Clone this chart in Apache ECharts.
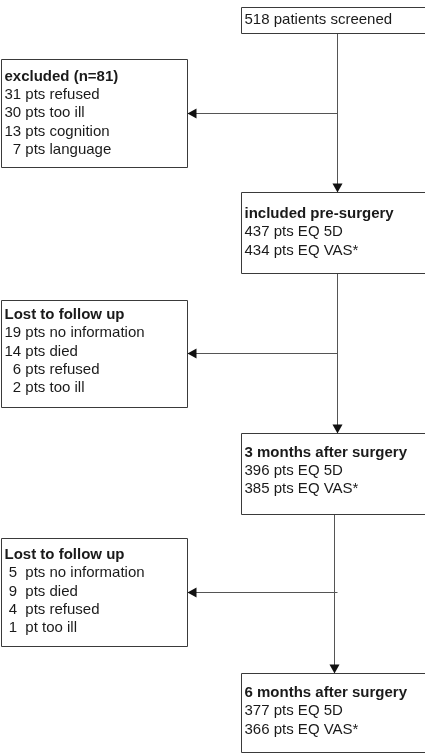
<!DOCTYPE html>
<html>
<head>
<meta charset="utf-8">
<script src="https://cdn.jsdelivr.net/npm/echarts@6/dist/echarts.min.js"></script>
<style>
  html, body { margin: 0; padding: 0; background: #fff; }
  #main { width: 425px; height: 753px; }
</style>
</head>
<body>
<div id="main"></div>
<script>
// box texts (first entry is the heading)
var boxTitles = [
  '518 patients screened',
  'excluded (n=81)',
  'included pre-surgery',
  'Lost to follow up',
  '3 months after surgery',
  'Lost to follow up',
  '6 months after surgery'
];
var boxBold = [false, true, true, true, true, true, true];
var boxLines = [
  [],
  ['31 pts refused', '30 pts too ill', '13 pts cognition', '  7 pts language'],
  ['437 pts EQ 5D', '434 pts EQ VAS*'],
  ['19 pts no information', '14 pts died', '  6 pts refused', '  2 pts too ill'],
  ['396 pts EQ 5D', '385 pts EQ VAS*'],
  [' 5  pts no information', ' 9  pts died', ' 4  pts refused', ' 1  pt too ill'],
  ['377 pts EQ 5D', '366 pts EQ VAS*']
];

// layout of boxes: x0, y0, x1, y1, y of first text line
var boxLayout = [
  [241, 7, 427, 33, 20],
  [1, 59, 187, 167, 76.5],
  [241, 192, 427, 273, 214],
  [1, 300, 187, 407, 315],
  [241, 433, 427, 514, 452.5],
  [1, 538, 187, 646, 555],
  [241, 673, 427, 752, 693]
];
// connectors: x1, y1, x2, y2 (arrow at the end)
var linkLayout = [
  [337, 33, 337, 192],
  [337, 113, 187, 113],
  [337, 273, 337, 433],
  [337, 353, 187, 353],
  [334, 514, 334, 673],
  [337, 592, 187, 592]
];

var LINE_H = 18.3;
var FONT = '15px "Liberation Sans", Arial, sans-serif';
var FONT_B = 'bold 15px "Liberation Sans", Arial, sans-serif';

var chart = echarts.init(document.getElementById('main'), null, { renderer: 'canvas' });

function renderBox(params, api) {
  var i = params.dataIndex;
  var b = boxLayout[i];
  var p0 = api.coord([b[0], b[1]]);
  var p1 = api.coord([b[2], b[3]]);
  var x0 = Math.round(p0[0]) + 0.5, y0 = Math.round(p0[1]) + 0.5;
  var x1 = Math.round(p1[0]) + 0.5, y1 = Math.round(p1[1]) + 0.5;
  var children = [{
    type: 'rect',
    shape: { x: x0, y: y0, width: x1 - x0, height: y1 - y0 },
    style: { fill: '#fff', stroke: '#3a3a3a', lineWidth: 1 }
  }];
  var ty = api.coord([0, b[4]])[1];
  var tx = x0 + 3;
  var all = [boxTitles[i]].concat(boxLines[i]);
  all.forEach(function (t, k) {
    children.push({
      type: 'text',
      style: {
        text: t,
        x: tx,
        y: ty + k * LINE_H,
        font: (k === 0 && boxBold[i]) ? FONT_B : FONT,
        fill: '#1a1a1a',
        align: 'left',
        verticalAlign: 'middle'
      }
    });
  });
  return { type: 'group', children: children };
}

function renderLink(params, api) {
  var l = linkLayout[params.dataIndex];
  var a = api.coord([l[0], l[1]]);
  var b = api.coord([l[2], l[3]]);
  var ax = Math.round(a[0]) + 0.5, ay = Math.round(a[1]) + 0.5;
  var bx = Math.round(b[0]) + 0.5, by = Math.round(b[1]) + 0.5;
  var head = 9, half = 5;
  var pts;
  if (ax === bx) {
    pts = [[bx, by], [bx - half, by - head], [bx + half, by - head]];
  } else {
    var dir = bx < ax ? 1 : -1;
    pts = [[bx, by], [bx + dir * head, by - half], [bx + dir * head, by + half]];
  }
  return {
    type: 'group',
    children: [{
      type: 'line',
      shape: { x1: ax, y1: ay, x2: bx, y2: by },
      style: { stroke: '#555', lineWidth: 1 }
    }, {
      type: 'polygon',
      shape: { points: pts },
      style: { fill: '#111' }
    }]
  };
}

var option = {
  animation: false,
  backgroundColor: '#fff',
  grid: { left: 0, right: 0, top: 0, bottom: 0 },
  xAxis: { type: 'value', min: 0, max: 425, show: false },
  yAxis: { type: 'value', min: 0, max: 753, inverse: true, show: false },
  series: [{
    type: 'custom',
    name: 'links',
    clip: false,
    renderItem: renderLink,
    data: linkLayout.map(function (l) { return [l[0], l[1]]; }),
    z: 1
  }, {
    type: 'custom',
    name: 'boxes',
    clip: false,
    renderItem: renderBox,
    data: boxTitles.map(function (t, i) { return [boxLayout[i][0], boxLayout[i][1]]; }),
    z: 2
  }]
};

chart.setOption(option);
</script>
</body>
</html>
